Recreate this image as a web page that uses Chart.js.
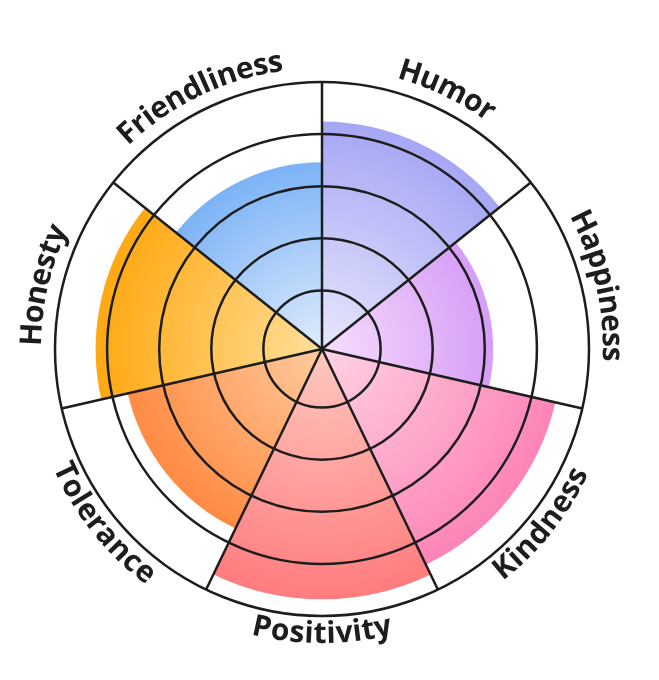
<!DOCTYPE html>
<html>
<head>
<meta charset="utf-8">
<title>Character traits</title>
<script src="https://cdn.jsdelivr.net/npm/chart.js@4.4.1/dist/chart.umd.min.js"></script>
<style>
  html, body { margin: 0; padding: 0; background: #fff; }
  #wrap { width: 659px; height: 680px; }
</style>
</head>
<body>
<div id="wrap"><canvas id="chart" width="659" height="680"></canvas></div>
<script>
const traits = ["Humor", "Happiness", "Kindness", "Positivity", "Tolerance", "Honesty", "Friendliness"];
const scores = [4.24, 3.16, 4.47, 4.68, 3.7, 4.22, 3.46];
const edgeColors = ["#a6a6f5", "#d69ef6", "#fd84b8", "#ff7c7e", "#ff8b43", "#ffa812", "#7cb3f6"];
const innerColors = ["#e8e8fd", "#f7defd", "#ffd3e3", "#ffc9c0", "#ffcb9e", "#ffe09a", "#e0ecfd"];
const ringValues = [1, 2, 3, 4, 5];

const ink = "#1d1d1d";

// radial fill per slice, light in the middle and full colour at the rim
function sliceFill(c) {
  const i = c.dataIndex;
  if (i === undefined) return edgeColors[0];
  const r = c.chart.scales.r;
  if (!r || r.xCenter === undefined) return edgeColors[i];
  const rad = Math.max(1, r.getDistanceFromCenterForValue(scores[i]));
  const g = c.chart.ctx.createRadialGradient(r.xCenter, r.yCenter, 0, r.xCenter, r.yCenter, rad);
  g.addColorStop(0, innerColors[i]);
  g.addColorStop(1, edgeColors[i]);
  return g;
}

// labels bent along the outer ring
const curvedLabels = {
  id: "curvedLabels",
  afterDraw(chart) {
    const r = chart.scales.r;
    const ctx = chart.ctx;
    const n = traits.length;
    ctx.save();
    ctx.font = "bold 30px 'Open Sans'";
    ctx.fillStyle = ink;
    ctx.textAlign = "center";
    ctx.textBaseline = "alphabetic";
    traits.forEach((label, i) => {
      const mid = r.getIndexAngle(i) + Math.PI / n - Math.PI / 2;
      const flip = Math.sin(mid) > 0;
      const base = flip ? r.drawingArea + 27 : r.drawingArea + 14;
      const along = flip ? base - 9 : base + 9;
      const total = ctx.measureText(label).width;
      const span = total / along;
      for (let k = 0; k < label.length; k++) {
        const ch = label[k];
        const off = ctx.measureText(label.slice(0, k)).width + ctx.measureText(ch).width / 2;
        const a = flip ? mid + span / 2 - off / along : mid - span / 2 + off / along;
        ctx.save();
        ctx.translate(r.xCenter + base * Math.cos(a), r.yCenter + base * Math.sin(a));
        ctx.rotate(flip ? a - Math.PI / 2 : a + Math.PI / 2);
        ctx.fillText(ch, 0, 0);
        ctx.restore();
      }
    });
    ctx.restore();
  }
};

new Chart(document.getElementById("chart"), {
  type: "polarArea",
  data: {
    labels: traits,
    datasets: [{
      data: scores,
      backgroundColor: sliceFill,
      borderWidth: 0
    }]
  },
  options: {
    responsive: false,
    animation: false,
    layout: { padding: { left: 55, right: 69, top: 82, bottom: 63 } },
    plugins: {
      legend: { display: false },
      tooltip: { enabled: false }
    },
    scales: {
      r: {
        z: 1,
        min: -0.125,
        max: 5,
        ticks: { display: false, stepSize: 1 },
        pointLabels: { display: false },
        grid: {
          z: 1,
          circular: true,
          lineWidth: 2.5,
          color: (c) => ringValues.includes(c.tick && c.tick.value) ? ink : "rgba(0,0,0,0)"
        },
        angleLines: { display: true, color: ink, lineWidth: 2.5 }
      }
    }
  },
  plugins: [curvedLabels]
});
</script>
</body>
</html>
